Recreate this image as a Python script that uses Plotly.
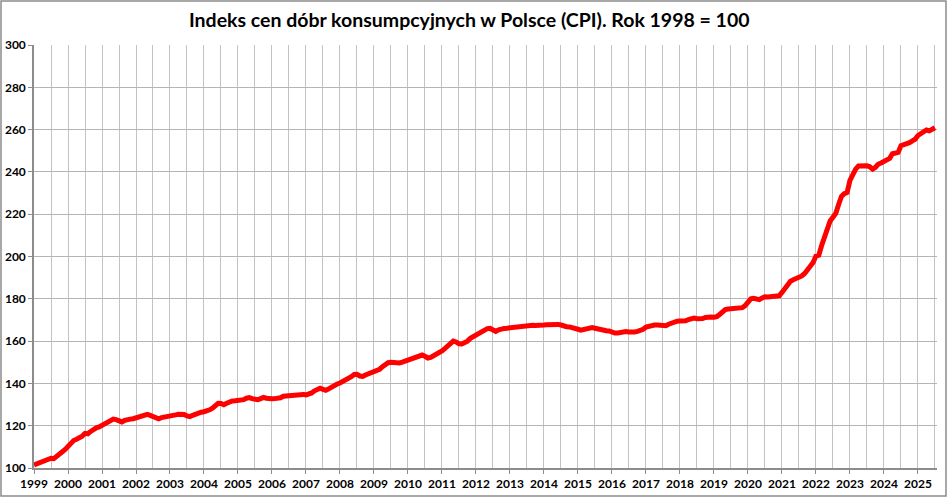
import plotly.graph_objects as go

# =============================================================================
# DATA (monthly CPI, 1998 = 100)
# =============================================================================
START_YEAR = 1999

CPI_1999 = [101.4, 102.0, 102.7, 103.3, 103.9, 104.4, 104.6, 104.4, 105.3, 106.6, 107.7, 108.8]
CPI_2000 = [110.4, 111.9, 113.0, 113.6, 114.2, 115.0, 116.4, 116.2, 117.3, 118.4, 119.0, 119.4]
CPI_2001 = [120.1, 120.6, 121.2, 122.3, 123.1, 122.9, 122.0, 121.8, 122.5, 123.0, 123.1, 123.3]
CPI_2002 = [123.8, 124.3, 124.7, 125.3, 125.4, 124.9, 124.2, 123.5, 123.3, 123.8, 124.0, 124.0]
CPI_2003 = [124.3, 124.6, 125.1, 125.4, 125.4, 125.3, 124.6, 124.3, 124.9, 125.6, 126.0, 126.4]
CPI_2004 = [126.6, 126.9, 127.5, 128.3, 129.6, 130.6, 130.5, 129.9, 130.6, 131.4, 131.7, 131.8]
CPI_2005 = [131.9, 132.0, 132.3, 133.0, 133.3, 132.8, 132.4, 132.3, 132.8, 133.4, 133.0, 132.6]
CPI_2006 = [132.7, 132.8, 132.9, 133.2, 133.9, 134.1, 134.0, 134.0, 134.3, 134.8, 135.0, 134.8]
CPI_2007 = [134.6, 134.9, 135.5, 136.5, 137.4, 137.7, 137.2, 136.7, 137.4, 138.3, 139.2, 139.7]
CPI_2008 = [140.2, 140.9, 141.5, 142.1, 143.2, 144.2, 144.3, 143.5, 143.3, 144.0, 144.6, 145.0]
CPI_2009 = [145.2, 145.8, 146.7, 147.9, 149.0, 149.8, 150.0, 149.7, 149.4, 149.7, 150.1, 150.5]
CPI_2010 = [150.8, 151.2, 151.7, 152.4, 153.0, 153.4, 152.8, 152.0, 152.3, 153.3, 154.1, 154.6]
CPI_2011 = [155.3, 156.4, 157.7, 159.0, 160.0, 159.6, 158.7, 158.6, 159.0, 160.0, 161.3, 162.0]
CPI_2012 = [162.7, 163.5, 164.3, 165.3, 165.9, 166.0, 165.2, 164.6, 165.3, 165.9, 166.0, 166.1]
CPI_2013 = [166.3, 166.5, 166.7, 167.0, 167.3, 167.4, 167.5, 167.6, 167.5, 167.4, 167.3, 167.4]
CPI_2014 = [167.6, 167.7, 167.9, 168.0, 168.0, 167.9, 167.6, 167.0, 166.8, 166.7, 166.5, 166.2]
CPI_2015 = [165.6, 165.2, 165.5, 166.1, 166.5, 166.4, 166.1, 165.7, 165.1, 164.9, 164.9, 164.8]
CPI_2016 = [164.1, 163.8, 163.8, 164.1, 164.4, 164.5, 164.3, 164.1, 164.3, 164.6, 164.9, 165.6]
CPI_2017 = [166.6, 167.1, 167.3, 167.6, 167.6, 167.3, 167.1, 167.3, 168.0, 168.6, 169.1, 169.4]
CPI_2018 = [169.5, 169.4, 169.6, 170.2, 170.8, 170.9, 170.6, 170.4, 170.7, 171.2, 171.5, 171.4]
CPI_2019 = [171.3, 171.6, 172.6, 174.0, 174.9, 175.2, 175.4, 175.4, 175.3, 175.4, 175.8, 176.8]
CPI_2020 = [178.6, 180.0, 180.2, 179.8, 179.6, 180.4, 181.0, 180.9, 181.0, 181.1, 181.2, 181.4]
CPI_2021 = [183.0, 184.7, 186.8, 188.3, 189.0, 189.4, 190.1, 190.8, 192.0, 193.6, 195.6, 197.2]
CPI_2022 = [200.2, 200.6, 205.2, 209.4, 212.8, 216.8, 218.6, 220.4, 224.6, 228.4, 229.7, 230.3]
CPI_2023 = [236.0, 238.8, 241.3, 242.8, 243.0, 243.0, 242.9, 242.4, 241.3, 242.2, 243.7, 244.2]
CPI_2024 = [245.0, 245.9, 246.4, 248.6, 249.2, 249.2, 252.4, 252.7, 253.2, 253.8, 254.7, 255.4]
CPI_2025 = [257.2, 258.2, 258.8, 259.8, 259.4, 260.0, 260.9]

YEAR_TICKS = list(range(1999, 2026))
Y_TICKS = list(range(100, 301, 20))

TITLE = "Indeks cen dóbr konsumpcyjnych w Polsce (CPI). Rok 1998 = 100"

# =============================================================================
# BUILD SERIES
# =============================================================================
cpi = (CPI_1999 + CPI_2000 + CPI_2001 + CPI_2002 + CPI_2003 + CPI_2004 + CPI_2005
       + CPI_2006 + CPI_2007 + CPI_2008 + CPI_2009 + CPI_2010 + CPI_2011 + CPI_2012
       + CPI_2013 + CPI_2014 + CPI_2015 + CPI_2016 + CPI_2017 + CPI_2018 + CPI_2019
       + CPI_2020 + CPI_2021 + CPI_2022 + CPI_2023 + CPI_2024 + CPI_2025)
x = [START_YEAR + i / 12 for i in range(len(cpi))]

FONT = "Lato"
GRID = "#c3c3c3"
AXIS = "#8c8c8c"

fig = go.Figure()
fig.add_trace(go.Scatter(
    x=x, y=cpi, mode="lines",
    line=dict(color="#ff0000", width=5),
    hoverinfo="x+y", showlegend=False,
))

# plot area in px: x 34..937, y 45..468
W, H = 948, 497
L, R, T, B = 34, 11, 45, 29
pw, ph = W - L - R, H - T - B

fig.update_layout(
    width=W, height=H,
    margin=dict(l=L, r=R, t=T, b=B, autoexpand=False),
    paper_bgcolor="white", plot_bgcolor="white",
    font=dict(family=FONT, color="black"),
    title=dict(text=f"<b>{TITLE}</b>", x=0.495, xanchor="center",
               y=1 - 20 / H, yanchor="middle",
               font=dict(family=FONT, size=19.5, color="black")),
    xaxis=dict(
        range=[1999, 2025.56], automargin=False,
        tickmode="array", tickvals=YEAR_TICKS,
        ticktext=[f"<b>{y}</b>" for y in YEAR_TICKS],
        tickfont=dict(family=FONT, size=12, color="black"),
        ticks="outside", ticklen=4, tickcolor=AXIS,
        showgrid=True, gridcolor=GRID, gridwidth=1,
        minor=dict(dtick=0.5, tick0=1999, showgrid=True, gridcolor=GRID, gridwidth=1, ticks=""),
        showline=True, linecolor=AXIS, linewidth=1.5,
        zeroline=False, fixedrange=True,
    ),
    yaxis=dict(
        range=[100, 300], automargin=False,
        tickmode="array", tickvals=Y_TICKS, ticktext=[f"<b>{v}</b>" for v in Y_TICKS],
        tickfont=dict(family=FONT, size=12, color="black"),
        ticks="outside", ticklen=4, tickcolor=AXIS,
        showgrid=True, gridcolor="#b5b5b5", gridwidth=1,
        showline=True, linecolor=AXIS, linewidth=1.5,
        zeroline=False, fixedrange=True,
    ),
)

# outer chart border
fig.add_shape(
    type="rect", xref="paper", yref="paper",
    x0=(1 - L) / pw, x1=(W - 2 - L) / pw,
    y0=-(B - 1) / ph, y1=(H - B - 1) / ph,
    line=dict(color="#8c8c8c", width=1.5), fillcolor="rgba(0,0,0,0)", layer="above",
)

# drop the browser's default body margin so the figure sits at the page corner
fig.write_html(
    "out.html",
    config={"displayModeBar": False},
    post_script="document.body.style.margin='0';document.body.style.overflow='hidden';",
)
